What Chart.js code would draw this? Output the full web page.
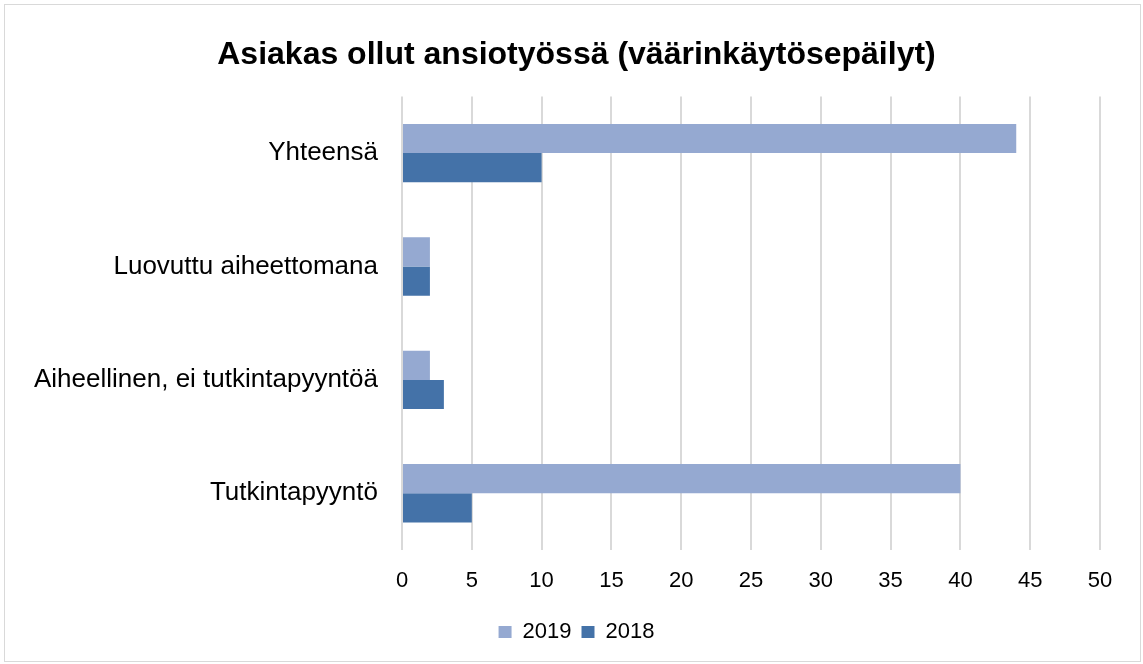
<!DOCTYPE html>
<html>
<head>
<meta charset="utf-8">
<script src="https://cdn.jsdelivr.net/npm/chart.js@4/dist/chart.umd.min.js"></script>
<style>
  html, body { margin: 0; padding: 0; background: #fff; }
  #wrap { width: 1143px; height: 664px; }
</style>
</head>
<body>
<div id="wrap"><canvas id="chart" width="1143" height="664"></canvas></div>
<script>
// ─── DATA ────────────────────────────────────────────────────────
const categories = ['Yhteensä', 'Luovuttu aiheettomana', 'Aiheellinen, ei tutkintapyyntöä', 'Tutkintapyyntö'];
const values2019 = [44, 2, 2, 40];
const values2018 = [10, 2, 3, 5];
const seriesNames = ['2019', '2018'];
const xTicks = [0, 5, 10, 15, 20, 25, 30, 35, 40, 45, 50];

const FONT = "'Liberation Sans', Arial, sans-serif";

// light grey frame round the whole chart
const framePlugin = {
  id: 'frame',
  beforeDraw(chart) {
    const c = chart.ctx;
    c.save();
    c.fillStyle = '#fff';
    c.fillRect(0, 0, chart.width, chart.height);
    c.strokeStyle = '#d9d9d9';
    c.lineWidth = 1;
    c.strokeRect(4.5, 4.5, chart.width - 7, chart.height - 7);
    c.restore();
  }
};

new Chart(document.getElementById('chart'), {
  type: 'bar',
  plugins: [framePlugin],
  data: {
    labels: categories,
    datasets: [
      { label: seriesNames[0], data: values2019, backgroundColor: '#95a9d1', borderWidth: 0 },
      { label: seriesNames[1], data: values2018, backgroundColor: '#4472a8', borderWidth: 0 }
    ]
  },
  options: {
    indexAxis: 'y',
    responsive: false,
    animation: false,
    categoryPercentage: 0.515,
    barPercentage: 1,
    layout: { padding: { left: 10, right: 0, top: 0, bottom: 11 } },
    plugins: {
      title: {
        display: true,
        text: 'Asiakas ollut ansiotyössä (väärinkäytösepäilyt)',
        color: '#000',
        font: { family: FONT, size: 32, weight: 'bold' },
        padding: { top: 36, bottom: 22 }
      },
      legend: {
        position: 'bottom',
        labels: {
          color: '#000',
          font: { family: FONT, size: 22 },
          boxWidth: 13,
          boxHeight: 12,
          padding: 10
        }
      },
      tooltip: { enabled: false }
    },
    scales: {
      x: {
        min: 0, max: 50,
        afterBuildTicks: s => { s.ticks = xTicks.map(v => ({ value: v })); },
        grid: { color: '#d9d9d9', lineWidth: 2, drawTicks: false },
        border: { display: false },
        ticks: { color: '#000', font: { family: FONT, size: 22 }, padding: 18, maxRotation: 0 },
        afterFit: s => { s.height = 61; }
      },
      y: {
        grid: { display: false, drawTicks: false },
        border: { display: false },
        ticks: { color: '#000', font: { family: FONT, size: 26 }, padding: 24 },
        afterFit: s => { s.width = 392; }
      },
      yRight: {
        type: 'category',
        labels: categories,
        position: 'right',
        grid: { display: false, drawTicks: false },
        border: { display: false },
        ticks: { display: false },
        afterFit: s => { s.width = 43; }
      }
    }
  }
});
</script>
</body>
</html>
